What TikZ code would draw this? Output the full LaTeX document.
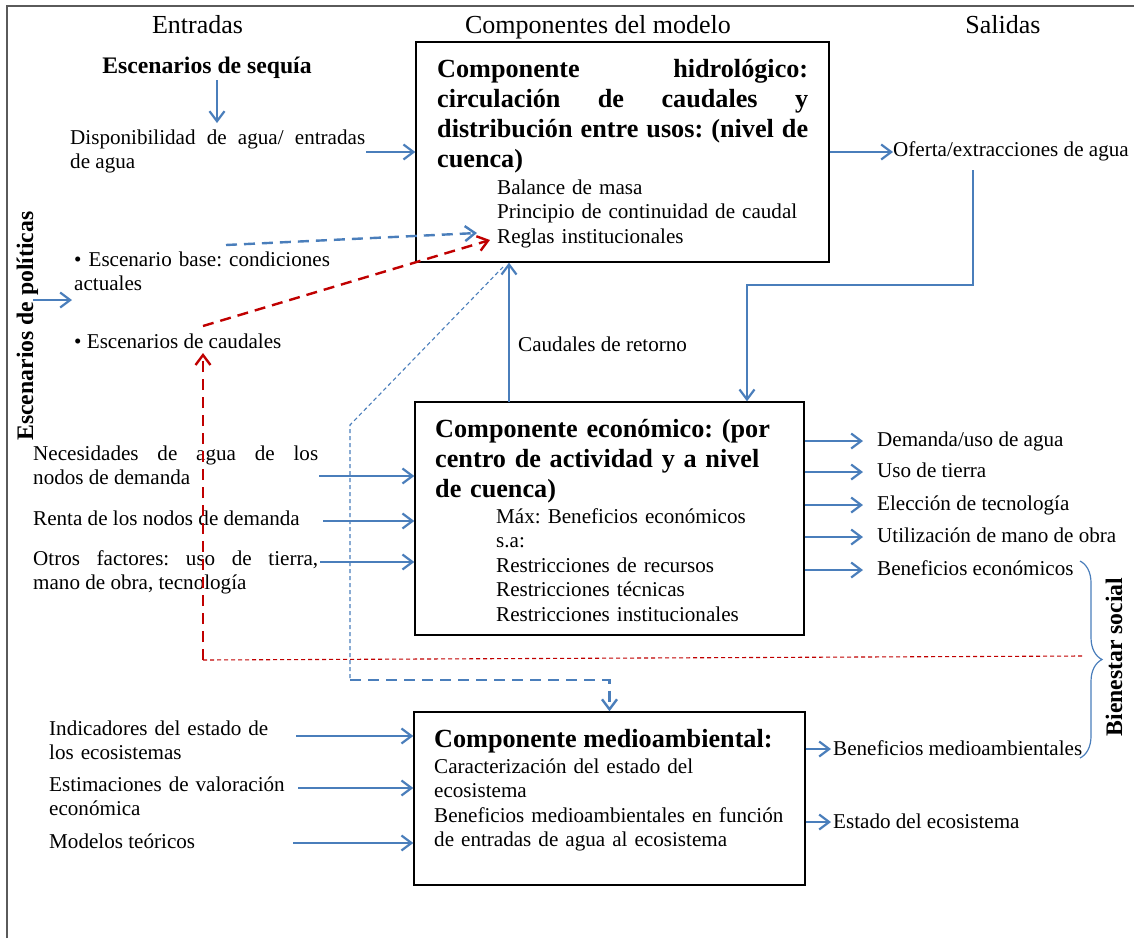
\documentclass[tikz,border=0pt]{standalone}
\usepackage{fontspec}
\setmainfont{Liberation Serif}
\usetikzlibrary{arrows.meta}
\usetikzlibrary{decorations.pathreplacing}
\definecolor{azul}{RGB}{74,126,187}
\definecolor{rojo}{RGB}{192,0,0}
\definecolor{marco}{RGB}{90,90,90}
\frenchspacing

\begin{document}
\begin{tikzpicture}[x=1pt,y=-1pt,
  txt/.style={font=\fontsize{21.1}{24.5}\selectfont,inner sep=0pt,anchor=base west},
  tit/.style={font=\fontsize{26.2}{30.2}\selectfont\bfseries,inner sep=0pt,anchor=base west},
  negrita/.style={font=\fontsize{23.7}{28}\selectfont\bfseries,inner sep=0pt,anchor=base},
  hdr/.style={font=\fontsize{26}{30}\selectfont,inner sep=0pt,anchor=base},
  caja/.style={draw=black,line width=1.4pt,inner sep=0pt},
  flecha/.style={draw=azul,line width=2.2pt,-{Straight Barb[length=10pt,width=15pt]}},
  rayas/.style={line width=2.4pt,dash pattern=on 11pt off 7pt},
  fino/.style={line width=1.1pt,dash pattern=on 4pt off 3pt}]
\useasboundingbox (0,0) rectangle (1134,938);
\draw[marco,line width=1.5pt] (7,938) -- (7,6) -- (1134,6);

\node[hdr] (ent) at (197.5,33) {Entradas};
\node[hdr] (comp) at (598,33) {Componentes del modelo};
\node[hdr] (sal) at (1003,33) {Salidas};

\node[caja,minimum width=413,minimum height=220] (H) at (622.5,152) {};
\node[caja,minimum width=389,minimum height=233] (E) at (609.5,518.5) {};
\node[caja,minimum width=391,minimum height=173] (M) at (609.5,798.5) {};

\node[tit,text width=371,align=justify] (Ht) at (437,77) {Componente hidrológico:\linebreak circulación de caudales y\linebreak distribución entre usos: (nivel de\linebreak cuenca)};
\node[txt,text width=320,align=left] (Hs) at (497,194) {Balance de masa\\Principio de continuidad de caudal\\Reglas institucionales};
\node[tit,text width=360,align=left] (Et) at (435,437) {Componente económico: (por\\centro de actividad y a nivel\\de cuenca)};
\node[txt,text width=300,align=left] (Es) at (496,523) {Máx: Beneficios económicos\\s.a:\\Restricciones de recursos\\Restricciones técnicas\\Restricciones institucionales};
\node[tit] (Mt) at (434,747) {Componente medioambiental:};
\node[txt,text width=365,align=left] (Ms) at (434,773) {Caracterización del estado del\\ecosistema\\Beneficios medioambientales en función\\de entradas de agua al ecosistema};

\node[negrita] (seq) at (207,73) {Escenarios de sequía};
\node[txt,text width=295,align=justify] (disp) at (70,144) {Disponibilidad de agua/ entradas\linebreak de agua};
\node[txt,text width=280,align=left] (base) at (74,266) {\textbullet\ Escenario base: condiciones\\actuales};
\node[txt] (caud) at (74,348) {\textbullet\ Escenarios de caudales};
\node[negrita,rotate=90] (pol) at (33,326) {Escenarios de políticas};
\node[txt,text width=285,align=justify] (nec) at (33,460) {Necesidades de agua de los\linebreak nodos de demanda};
\node[txt] (renta) at (33,525) {Renta de los nodos de demanda};
\node[txt,text width=285,align=justify] (otros) at (33,565) {Otros factores: uso de tierra,\linebreak mano de obra, tecnología};
\node[txt,text width=260,align=left] (ind) at (49,735) {Indicadores del estado de\\los ecosistemas};
\node[txt,text width=260,align=left] (est) at (49,791) {Estimaciones de valoración\\económica};
\node[txt] (mod) at (49,848) {Modelos teóricos};

\node[txt] (ofe) at (893,156) {Oferta/extracciones de agua};
\node[txt] (ret) at (518,351) {Caudales de retorno};
\node[txt] (dem) at (877,446) {Demanda/uso de agua};
\node[txt] (uso) at (877,477) {Uso de tierra};
\node[txt] (tec) at (877,510) {Elección de tecnología};
\node[txt] (mo) at (877,542) {Utilización de mano de obra};
\node[txt] (bec) at (877,575) {Beneficios económicos};
\node[txt] (bma) at (833,755) {Beneficios medioambientales};
\node[txt] (eco) at (833,828) {Estado del ecosistema};
\node[negrita,rotate=90] (bien) at (1122,657) {Bienestar social};

\coordinate (s1) at (217,80);
\coordinate (s2) at (217,123);
\draw[flecha] (s1) -- (s2);
\coordinate (d1) at (366,152);
\draw[flecha] (d1) -- (d1 -| H.west);
\coordinate (p1) at (33,300);
\coordinate (p2) at (72,300);
\draw[flecha] (p1) -- (p2);
\coordinate (b1) at (226,245);
\coordinate (b2) at (477,233);
\draw[flecha,rayas] (b1) -- (b2);
\coordinate (c1) at (203,326);
\coordinate (c2) at (490,240);
\draw[flecha,rayas,draw=rojo] (c1) -- (c2);

\coordinate (n1) at (319,476);
\draw[flecha] (n1) -- (n1 -| E.west);
\coordinate (n2) at (323,521);
\draw[flecha] (n2) -- (n2 -| E.west);
\coordinate (n3) at (320,562);
\draw[flecha] (n3) -- (n3 -| E.west);
\coordinate (i1) at (296,736);
\draw[flecha] (i1) -- (i1 -| M.west);
\coordinate (i2) at (298,788);
\draw[flecha] (i2) -- (i2 -| M.west);
\coordinate (i3) at (293,843);
\draw[flecha] (i3) -- (i3 -| M.west);

\coordinate (r1) at (509,402);
\draw[flecha] (r1) -- (r1 |- H.south);
\coordinate (pofe) at ([yshift=4pt]ofe.base west);
\draw[flecha] (H.east |- pofe) -- (pofe);
\coordinate (o1) at (973,170);
\coordinate (o2) at (747,285);
\draw[flecha] (o1) |- (o2) -- (o2 |- E.north);

\coordinate (pdem) at ([yshift=5pt]dem.base west);
\draw[flecha,shorten >=14pt] (E.east |- pdem) -- (pdem);
\coordinate (puso) at ([yshift=5pt]uso.base west);
\draw[flecha,shorten >=14pt] (E.east |- puso) -- (puso);
\coordinate (ptec) at ([yshift=5pt]tec.base west);
\draw[flecha,shorten >=14pt] (E.east |- ptec) -- (ptec);
\coordinate (pmo) at ([yshift=5pt]mo.base west);
\draw[flecha,shorten >=14pt] (E.east |- pmo) -- (pmo);
\coordinate (pbec) at ([yshift=5pt]bec.base west);
\draw[flecha,shorten >=14pt] (E.east |- pbec) -- (pbec);
\coordinate (pbma) at ([yshift=6pt]bma.base west);
\draw[flecha,shorten >=2pt] (M.east |- pbma) -- (pbma);
\coordinate (peco) at ([yshift=6pt]eco.base west);
\draw[flecha,shorten >=2pt] (M.east |- peco) -- (peco);

\coordinate (q1) at (503,267);
\coordinate (q2) at (350,425);
\coordinate (q3) at (350,680);
\draw[azul,fino] (q1) -- (q2) -- (q3);
\draw[flecha,rayas] (q3) -| (M.north);

\coordinate (t1) at (1082,656);
\coordinate (t2) at (203,660);
\coordinate (t3) at (203,353);
\draw[rojo,fino] (t1) -- (t2);
\draw[flecha,rayas,draw=rojo] (t2) -- (t3);

\coordinate (br1) at (1080,561);
\coordinate (br2) at (1080,758);
\draw[azul,line width=1.2pt,decorate,decoration={brace,amplitude=22pt}] (br1) -- (br2);

\end{tikzpicture}
\end{document}
